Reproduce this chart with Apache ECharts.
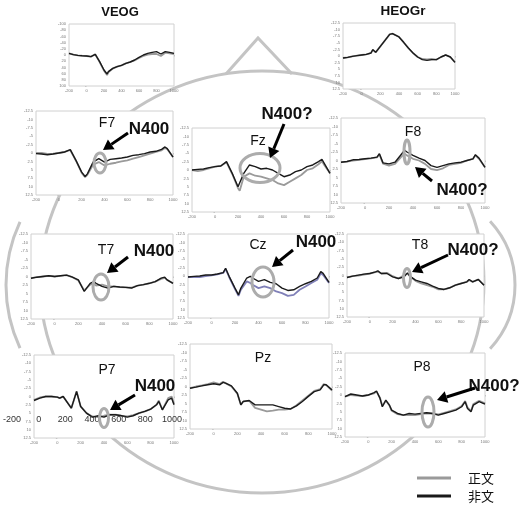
<!DOCTYPE html>
<html><head><meta charset="utf-8">
<script src="https://cdn.jsdelivr.net/npm/echarts/dist/echarts.min.js"></script>
<style>html,body{margin:0;padding:0;background:#fff}#c{width:525px;height:506px}</style>
</head><body><div id="c"></div>
<script>
// ---------- DATA (time in ms, amplitude; negative plotted up) ----------
const VEOG_t = [-200,-150,-100,-50,0,50,100,120,150,200,235,250,300,350,400,450,500,550,600,650,700,750,800,850,900,950,1000];
const VEOG_g = [-5.4,-1.1,1.1,2.2,3.2,5.4,-2.2,-4.3,22.6,50.5,64.5,55.9,44.1,37.6,33.3,26.9,22.6,17.2,9.7,3.2,-1.1,-3.2,-3.2,3.2,-7.5,-5.4,-3.2];
const VEOG_b = [-5.4,-1.1,1.1,2.2,3.2,5.4,-2.2,-5.4,21.5,48.4,61.3,53.8,43,37.6,33.3,26.9,22.6,16.1,7.5,0,-5.4,-8.6,-10.8,-3.2,-10.8,-8.6,-5.4];

const HEOG_t = [-200,-150,-100,-50,0,50,100,120,150,200,250,300,330,350,400,450,500,550,600,650,700,750,800,850,900,915,950,1000];
const HEOG_g = [0.76,0.51,0.13,-0.13,-0.38,-0.63,-1.14,-2.4,-1.39,-3.66,-5.93,-8.21,-8.46,-8.33,-7.2,-5.18,-3.03,-1.14,0.38,1.14,1.26,1.14,1.39,0.38,-0.38,-0.51,0.38,2.4];
const HEOG_b = [0.76,0.51,0.13,-0.13,-0.38,-0.63,-1.14,-2.4,-1.39,-3.66,-5.93,-8.21,-8.46,-8.33,-7.2,-5.18,-3.03,-1.14,0.38,1.39,1.64,1.39,1.39,0.38,-0.38,-0.51,0.38,2.4];

const F7_t = [-200,-150,-100,-50,0,50,100,150,200,230,250,300,350,400,450,500,550,600,650,700,750,800,850,900,930,950,1000];
const F7_g = [0,0,0.3,0.2,0,-0.3,-0.9,2.3,5.9,7.2,6.5,3.5,2.7,3.7,3.2,2.9,2.5,2.2,1.7,1.2,0.7,0.2,-0.3,-0.8,-1.5,-1.1,1.2];
const F7_b = [0.2,0.3,0.5,0.3,0,-0.3,-1.0,2.2,5.7,7.0,6.2,2.7,1.7,2.7,1.9,1.7,1.5,1.2,0.7,0.5,0.2,-0.3,-0.5,-1.1,-1.8,-1.3,1.2];

const Fz_t = [-200,-150,-100,-50,0,50,100,150,200,215,250,300,350,400,450,500,550,600,650,700,750,800,850,900,930,950,1000];
const Fz_g = [0,0.3,0,-0.5,-1.0,-1.2,-2.3,1.2,5.4,6.2,2.0,1.0,1.7,2.0,2.5,3.0,4.0,4.5,3.5,2.5,1.5,0,-0.5,-1.7,-2.6,-1.5,1.0];
const Fz_b = [0,-0.2,-0.3,-0.7,-1.0,-1.2,-2.5,1.0,5.0,5.4,1.0,-1.5,-1.0,-0.3,-0.5,0,1.0,2.0,1.5,0.5,0,-1.0,-1.5,-2.5,-3.2,-2.0,1.0];

const F8_t = [-200,-150,-100,-50,0,50,100,120,150,200,250,300,330,350,400,450,500,550,600,650,700,750,800,850,900,920,950,1000];
const F8_g = [0.5,0.3,0,-0.2,-0.4,-0.6,-0.9,-1.8,0.9,1.5,1.0,-1.0,-2.0,-1.5,-0.5,0,1.0,2.5,2.8,2.3,1.3,1.0,0.7,0,-0.5,-1.5,-0.5,2.0];
const F8_b = [0.5,0.3,-0.2,-0.3,-0.5,-0.7,-1.0,-2.0,0.7,1.0,0.5,-1.7,-3.0,-2.5,-1.5,-0.7,0,1.5,2.0,1.5,1.0,0.7,0.5,0,-0.5,-1.7,-0.7,2.0];

const T7_t = [-200,-150,-100,-50,0,50,100,150,200,250,300,330,350,400,450,500,550,600,650,700,750,800,850,900,930,950,1000];
const T7_g = [0.5,0.2,0,-0.2,0,-0.2,-0.4,0.2,1.2,4.1,2.4,2.1,2.7,2.4,2.9,2.9,3.1,3.2,3.3,2.7,2.4,2.0,1.5,0.7,0.4,1.0,2.0];
const T7_b = [0.5,0.2,0,-0.2,0,-0.2,-0.4,0.2,1.0,4.4,2.0,1.5,2.0,2.9,3.4,2.9,3.1,3.2,3.4,2.7,2.4,2.0,1.5,0.5,0.2,1.0,2.0];

const Cz_t = [-200,-150,-100,-50,0,50,100,120,150,200,230,250,300,330,350,400,450,500,550,600,650,700,750,800,850,900,930,950,1000];
const Cz_g = [0.3,0.3,0.3,0,-0.2,-0.5,-0.9,-2.1,0.3,3.9,5.9,4.1,1.6,2.1,2.6,3.6,3.1,3.6,4.6,5.1,5.9,5.6,4.1,3.1,2.1,1.1,-0.8,-0.3,2.1];
const Cz_b = [0.3,0.1,0,-0.3,-0.3,-0.6,-1.0,-2.3,0.1,3.6,5.6,3.6,0.6,0.1,0.6,1.6,1.1,1.9,2.3,3.6,4.3,4.1,3.1,2.3,1.6,0.6,-1.3,-0.8,1.9];

const T8_t = [-200,-150,-100,-50,0,50,70,100,150,200,250,300,330,350,400,450,500,550,600,650,700,750,800,850,870,900,950,1000];
const T8_g = [0.6,0.2,0,-0.3,-0.6,-1.0,-1.2,-0.6,-0.8,0.2,0.9,-0.1,-0.6,0.2,1.6,2.4,2.9,3.4,4.2,4.2,3.7,2.9,2.4,1.9,1.4,1.9,1.2,2.9];
const T8_b = [0.6,0.2,-0.1,-0.4,-0.6,-1.1,-1.4,-0.6,-0.6,0.4,0.9,0.4,-0.8,0.2,1.4,1.9,2.4,3.2,3.9,4.2,3.7,2.9,2.4,1.9,1.2,1.9,1.2,2.9];

const P7_t = [-200,-150,-100,-50,0,20,50,100,120,165,200,250,300,350,400,450,500,550,600,650,700,750,800,850,870,900,950,980,1000];
const P7_g = [1.0,0.3,0,0,0.2,0.5,0,2.5,3.5,-1.5,3.0,5.0,6.0,6.2,5.8,5.5,5.5,5.8,6.0,5.6,5.0,4.5,3.8,2.5,1.2,4.0,0.5,0,2.2];
const P7_b = [1.2,0.5,0,0,0.2,0.5,0,2.5,3.5,-1.5,3.0,5.0,6.2,5.8,6.2,5.5,5.5,5.8,6.2,5.8,5.0,4.5,3.8,2.5,1.5,4.0,1.0,0.5,2.5];

const Pz_t = [-200,-150,-100,-50,0,50,80,100,150,200,230,250,300,350,400,450,500,550,600,650,700,750,800,850,900,930,950,1000];
const Pz_g = [0.5,0,-0.3,-0.7,-1.2,-0.7,-1.4,-1.0,0,2.1,5.4,4.4,4.2,6.3,6.8,7.3,7.1,6.8,6.8,6.6,5.5,4.1,2.7,1.3,0.8,-0.7,-0.5,1.2];
const Pz_b = [0.5,0.2,-0.2,-0.5,-0.8,-0.5,-1.2,-1.0,-0.2,2.0,5.4,4.4,4.1,5.4,5.4,5.4,5.4,5.9,6.4,6.6,5.7,4.4,2.9,1.5,1.0,-0.5,-0.5,1.0];

const P8_t = [-200,-150,-100,-50,0,50,70,100,120,150,180,200,250,300,350,400,450,500,550,600,650,700,750,800,830,850,880,900,950,1000];
const P8_g = [0.5,0,0.2,0.3,0,-0.5,-1.0,0.8,3.3,1.7,3.0,4.7,5.7,6.0,6.0,6.0,5.7,5.5,5.5,5.8,5.3,4.8,4.3,3.3,1.8,3.7,4.8,2.7,1.7,2.5];
const P8_b = [0.5,-0.3,0,0.3,0,-0.7,-1.2,1.0,3.5,1.5,3.0,4.5,5.5,6.0,5.5,5.7,5.5,5.3,5.5,6.0,5.5,5.0,4.5,3.5,2.0,4.0,5.0,3.0,2.0,2.7];

const legendNames = ['正文', '非文'];

// ---------- LAYOUT ----------
const panels = [
  {name:'VEOG',  t:VEOG_t, g:VEOG_g, b:VEOG_b, box:[69,24,105,62], yr:100, yi:20},
  {name:'HEOGr', t:HEOG_t, g:HEOG_g, b:HEOG_b, box:[343,23,112,66]},
  {name:'F7', t:F7_t, g:F7_g, b:F7_b, box:[36,111,137,84]},
  {name:'Fz', t:Fz_t, g:Fz_g, b:Fz_b, box:[192,128,138,84]},
  {name:'F8', t:F8_t, g:F8_g, b:F8_b, box:[341,118,144,85]},
  {name:'T7', t:T7_t, g:T7_g, b:T7_b, box:[31,234,142,85]},
  {name:'Cz', t:Cz_t, g:Cz_g, b:Cz_b, box:[188,234,141,84], gc:'#8080b8'},
  {name:'T8', t:T8_t, g:T8_g, b:T8_b, box:[347,234,137,83]},
  {name:'P7', t:P7_t, g:P7_g, b:P7_b, box:[34,355,140,83]},
  {name:'Pz', t:Pz_t, g:Pz_g, b:Pz_b, box:[190,344,142,85]},
  {name:'P8', t:P8_t, g:P8_g, b:P8_b, box:[345,353,140,84]}
];

const grids = [], xAxes = [], yAxes = [], series = [];
const zip = (t, v) => t.map((x, i) => [x, v[i]]);
panels.forEach((p, i) => {
  const [l, t, w, h] = p.box;
  grids.push({left:l, top:t, width:w, height:h, show:true, backgroundColor:'#fff', borderColor:'#d0d0d0', borderWidth:1, z:1});
  xAxes.push({type:'value', gridIndex:i, min:-200, max:1000, interval:200,
    axisLine:{show:false}, axisTick:{show:true, length:1.5, lineStyle:{color:'#bbb'}},
    splitLine:{show:false}, axisLabel:{fontSize:4, color:'#777', margin:3, formatter:v => String(v)}});
  const yr = p.yr || 12.5, yi = p.yi || 2.5;
  yAxes.push({type:'value', gridIndex:i, inverse:true, min:-yr, max:yr, interval:yi,
    axisLine:{show:false}, axisTick:{show:true, length:1.5, lineStyle:{color:'#bbb'}},
    splitLine:{show:false}, axisLabel:{fontSize:4, color:'#777', margin:3}});
  series.push({name:legendNames[0], type:'line', xAxisIndex:i, yAxisIndex:i, data:zip(p.t, p.g),
    showSymbol:false, symbol:'none', color: p.gc || '#9a9a9a', lineStyle:{width:1.8, color:p.gc || '#9a9a9a'}, z:3, animation:false});
  series.push({name:legendNames[1], type:'line', xAxisIndex:i, yAxisIndex:i, data:zip(p.t, p.b),
    showSymbol:false, symbol:'none', color:'#1a1a1a', lineStyle:{width:1.4, color:'#1a1a1a'}, z:4, animation:false});
});

// big shared x-axis labels under P7
grids.push({left:12, top:400, width:160, height:12, show:false});
xAxes.push({type:'value', gridIndex:grids.length-1, min:-200, max:1000, interval:200, z:60,
  axisLine:{show:false}, axisTick:{show:false}, splitLine:{show:false},
  axisLabel:{fontSize:9, color:'#333', margin:3, fontFamily:'Liberation Sans', formatter:v => String(v)}});
yAxes.push({type:'value', gridIndex:grids.length-1, show:false});

// ---------- DECORATION ----------
const headStyle = {stroke:'#c4c4c4', lineWidth:3, fill:null};
const g = [];
g.push({type:'ellipse', shape:{cx:262, cy:282, rx:222, ry:211}, style:headStyle, z:-10});
g.push({type:'polyline', shape:{points:[[226,74],[258,38],[292,74]]}, style:headStyle, z:-10});
g.push({type:'arc', shape:{cx:155, cy:285, r:149, startAngle:Math.PI-0.437, endAngle:Math.PI+0.437, clockwise:true}, style:headStyle, z:-10});
g.push({type:'arc', shape:{cx:421, cy:285, r:94, startAngle:-0.745, endAngle:0.745, clockwise:true}, style:headStyle, z:-10});

const txt = (s, x, y, size, bold) => ({type:'text', x, y, z:100,
  style:{text:s, x:0, y:0, textAlign:'center', textVerticalAlign:'middle',
    font:(bold?'bold ':'') + size + 'px "Liberation Sans", Arial, sans-serif', fill:'#111'}});
g.push(txt('VEOG', 120, 12.5, 13, true));
g.push(txt('HEOGr', 403, 11, 13.5, true));
[['F7',107,123],['Fz',258,141],['F8',413,132],['T7',106,250],['Cz',258,245],['T8',420,245],['P7',107,370],['Pz',263,358],['P8',422,367]]
  .forEach(a => g.push(txt(a[0], a[1], a[2], 14, false)));
[['N400',149,129],['N400?',287,114],['N400?',462,190],['N400',154,251],['N400',316,242],['N400?',473,250],['N400',155,386],['N400?',494,386]]
  .forEach(a => g.push(txt(a[0], a[1], a[2], 17, true)));

[[100,163,6,10],[260,168,20,14.5],[407,152,3,12],[101,287,8,13],[263,282,11,15],[407,278,3.5,9.5],[104,418,4.5,9.5],[428,412,6,15]]
  .forEach(e => g.push({type:'ellipse', shape:{cx:e[0], cy:e[1], rx:e[2], ry:e[3]}, style:{stroke:'#acacac', lineWidth:3, fill:null}, z:90}));

function arrow(x1, y1, x2, y2) {
  const dx = x2-x1, dy = y2-y1, L = Math.hypot(dx, dy), ux = dx/L, uy = dy/L;
  const hl = 10, hw = 6, bx = x2-ux*hl, by = y2-uy*hl;
  g.push({type:'line', shape:{x1, y1, x2:bx, y2:by}, style:{stroke:'#000', lineWidth:3}, z:100});
  g.push({type:'polygon', shape:{points:[[x2,y2],[bx-uy*hw,by+ux*hw],[bx+uy*hw,by-ux*hw]]}, style:{fill:'#000'}, z:100});
}
arrow(128,133,103,150);
arrow(284,124,270,158);
arrow(432,181,415,167);
arrow(128,257,107,273);
arrow(293,250,272,267);
arrow(448,255,412,272);
arrow(135,395,110,410);
arrow(475,388,437,400);

const chart = echarts.init(document.getElementById('c'), null, {renderer:'canvas'});
chart.setOption({
  animation:false,
  backgroundColor:'#fff',
  grid:grids, xAxis:xAxes, yAxis:yAxes, series,
  legend:{data:legendNames, orient:'vertical', left:417, top:471, padding:0, itemWidth:34, itemHeight:3, itemGap:4,
    icon:'rect', textStyle:{fontSize:13, lineHeight:14, color:'#111', fontFamily:'"Noto Sans CJK JP", sans-serif', padding:[0,0,0,12]}},
  graphic:{elements:g}
});
</script></body></html>
